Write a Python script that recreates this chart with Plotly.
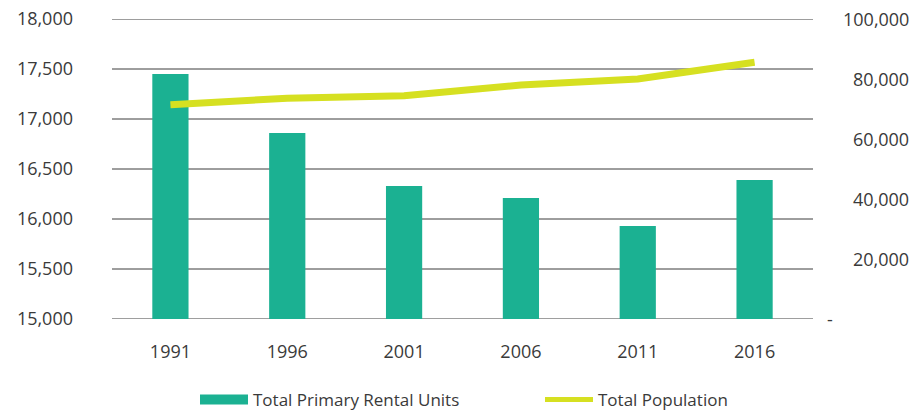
import plotly.graph_objects as go

years = ["1991", "1996", "2001", "2006", "2011", "2016"]
rental_units = [17450, 16860, 16330, 16210, 15930, 16390]
population = [71400, 73600, 74400, 78000, 80000, 85600]

left_ticks = [15000, 15500, 16000, 16500, 17000, 17500, 18000]
right_ticks = [0, 20000, 40000, 60000, 80000, 100000]
right_labels = ["-", "20,000", "40,000", "60,000", "80,000", "100,000"]

FONT = "Open Sans"
TXT = "#3a3a3a"
BAR_C = "#1bb192"
LINE_C = "#d6e021"
GRID_C = "#3c3c3c"

fig = go.Figure()
fig.add_trace(go.Bar(
    x=years, y=rental_units, name="Total Primary Rental Units",
    marker=dict(color=BAR_C, line=dict(width=0)), yaxis="y", showlegend=False,
))
fig.add_trace(go.Scatter(
    x=years, y=population, name="Total Population", mode="lines",
    line=dict(color=LINE_C, width=7), yaxis="y2", showlegend=False,
))
# legend-only entries (wide swatches as in the reference)
fig.add_trace(go.Scatter(x=[None], y=[None], mode="lines", name="Total Primary Rental Units",
                         line=dict(color=BAR_C, width=13), legend="legend"))
fig.add_trace(go.Scatter(x=[None], y=[None], mode="lines", name="Total Population",
                         line=dict(color=LINE_C, width=5), legend="legend2"))

# horizontal gridlines at every left-axis tick (including both range edges)
for t in left_ticks:
    fig.add_shape(type="line", xref="paper", x0=0, x1=1, yref="y", y0=t, y1=t,
                  line=dict(color=GRID_C, width=1), layer="below")

for v, lab in zip(right_ticks, right_labels):
    if lab == "-":
        fig.add_annotation(x=1, xref="paper", xshift=12, y=v, yref="y2",
                           text=lab, showarrow=False, xanchor="left",
                           font=dict(family=FONT, size=18, color=TXT))
    else:
        fig.add_annotation(x=1, xref="paper", xshift=98, y=v, yref="y2",
                           text=lab, showarrow=False, xanchor="right",
                           font=dict(family=FONT, size=18, color=TXT))

leg_common = dict(orientation="h", xref="container", yref="container",
                  xanchor="left", yanchor="middle", y=13 / 413,
                  font=dict(family=FONT, size=17, color=TXT),
                  itemwidth=48, bgcolor="rgba(0,0,0,0)")

fig.update_layout(
    width=923, height=413,
    margin=dict(l=112, r=110, t=19, b=94, autoexpand=False),
    paper_bgcolor="white", plot_bgcolor="white",
    font=dict(family=FONT, size=18, color=TXT),
    bargap=0.69,
    showlegend=True,
    legend=dict(x=195 / 923, **leg_common),
    legend2=dict(x=540 / 923, **leg_common),
    xaxis=dict(showgrid=False, showline=False, zeroline=False, ticks="",
               ticklabelstandoff=20, tickfont=dict(size=18)),
    yaxis=dict(range=[15000, 18000], tickvals=left_ticks, tickformat=",",
               showgrid=False, zeroline=False, showline=False, ticks="",
               ticklabelstandoff=38, tickfont=dict(size=18)),
    yaxis2=dict(range=[0, 100000], tickvals=right_ticks, overlaying="y",
                side="right", showgrid=False, zeroline=False, showline=False,
                showticklabels=False, ticks=""),
)

fig.write_html("out.html", config={"displayModeBar": False},
               post_script="document.body.style.margin='0';")
